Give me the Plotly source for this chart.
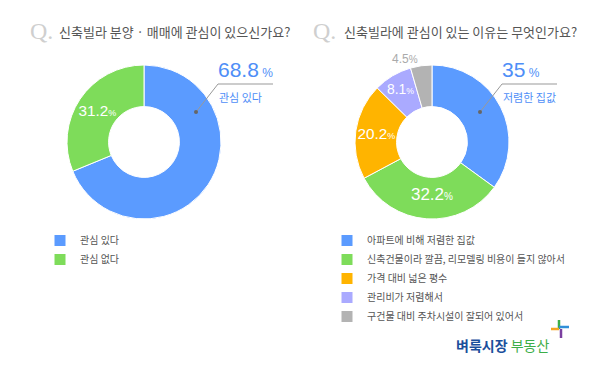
import plotly.graph_objects as go

# ---- data ----
q1_title = "신축빌라 분양 · 매매에 관심이 있으신가요?"
q1_labels = ["관심 있다", "관심 없다"]
q1_values = [68.8, 31.2]

q2_title = "신축빌라에 관심이 있는 이유는 무엇인가요?"
q2_labels = ["아파트에 비해 저렴한 집값",
             "신축건물이라 깔끔, 리모델링 비용이 들지 않아서",
             "가격 대비 넓은 평수",
             "관리비가 저렴해서",
             "구건물 대비 주차시설이 잘되어 있어서"]
q2_values = [35, 32.2, 20.2, 8.1, 4.5]
q2_callout = "저렴한 집값"

q1_colors = ["#5B9BFF", "#7EDC5A"]
q2_colors = ["#5B9BFF", "#7EDC5A", "#FFB400", "#AAAAFF", "#B3B3B3"]

FONT = "Liberation Sans, Arial, Noto Sans CJK KR"
KFONT = "Noto Sans CJK KR"
W, H = 600, 370


def px(x):
    return x / W


def py(y):
    return 1 - y / H


def pct_text(v, size=10):
    return f"{v}<span style='font-size:{size}px'>%</span>"


fig = go.Figure()

# left donut
t1 = ["" if i == 0 else pct_text(v) for i, v in enumerate(q1_values)]
fig.add_trace(go.Pie(
    labels=q1_labels, values=q1_values, sort=False, direction="clockwise",
    rotation=0, hole=0.46,
    marker=dict(colors=q1_colors, line=dict(color="white", width=1)),
    text=t1, textinfo="text", textposition="inside",
    insidetextorientation="horizontal",
    textfont=dict(family=FONT, size=17, color="white"),
    domain=dict(x=[px(67), px(221)], y=[py(219), py(65)]),
    legend="legend", hoverinfo="label+value",
))

# right donut
t2 = ["" if i == 0 else pct_text(v) for i, v in enumerate(q2_values)]
pos2 = ["inside", "inside", "inside", "inside", "outside"]
fc2 = ["white", "white", "white", "white", "#AAAAAA"]
fs2 = [17, 17, 17, 16, 12]
fig.add_trace(go.Pie(
    labels=q2_labels, values=q2_values, sort=False, direction="clockwise",
    rotation=0, hole=0.46,
    marker=dict(colors=q2_colors, line=dict(color="white", width=1)),
    text=t2, textinfo="text", textposition=pos2,
    insidetextorientation="horizontal",
    textfont=dict(family=FONT, size=fs2, color=fc2),
    domain=dict(x=[px(355), px(509)], y=[py(219), py(65)]),
    legend="legend2", hoverinfo="label+value",
))

annotations = []
shapes = []

# titles
for qx, tx, title in [(28, 57, q1_title), (311, 342, q2_title)]:
    annotations.append(dict(x=px(qx), y=py(31), xref="paper", yref="paper",
                            text="Q.", showarrow=False, xanchor="left", yanchor="middle",
                            font=dict(family="Liberation Serif, Times New Roman", size=24, color="#CFCFCF")))
    annotations.append(dict(x=px(tx), y=py(31), xref="paper", yref="paper",
                            text=title, showarrow=False, xanchor="left", yanchor="middle",
                            font=dict(family=KFONT, size=13, color="#555555")))

# callouts for the largest slice of each chart
for (dotx, doty, elbx, elby, endx, val, lab) in [
        (196, 112, 218, 84, 273, q1_values[0], q1_labels[0]),
        (480, 112, 502, 84, 557, q2_values[0], q2_callout)]:
    shapes.append(dict(type="path", xref="paper", yref="paper",
                       path=f"M {px(dotx)},{py(doty)} L {px(elbx)},{py(elby)} L {px(endx)},{py(elby)}",
                       line=dict(color="#999999", width=1)))
    shapes.append(dict(type="circle", xref="paper", yref="paper",
                       x0=px(dotx - 2), x1=px(dotx + 2), y0=py(doty + 2), y1=py(doty - 2),
                       fillcolor="#666666", line=dict(width=0)))
    annotations.append(dict(x=px(elbx - 2), y=py(83), xref="paper", yref="paper",
                            text=f"{val}<span style='font-size:12px'> %</span>",
                            showarrow=False, xanchor="left", yanchor="bottom",
                            font=dict(family=FONT, size=21, color="#4E8EF7")))
    annotations.append(dict(x=px(elbx - 1), y=py(87), xref="paper", yref="paper",
                            text=lab, showarrow=False, xanchor="left", yanchor="top",
                            font=dict(family=KFONT, size=11, color="#4E8EF7")))

# logo
annotations.append(dict(x=px(454), y=py(345), xref="paper", yref="paper",
                        text="<b><span style='color:#1B4F9C'>벼룩시장</span></b> "
                             "<span style='color:#3DAE49'>부동산</span>",
                        showarrow=False, xanchor="left", yanchor="middle",
                        font=dict(family=KFONT, size=14)))
# small pinwheel icon
shapes += [
    dict(type="line", xref="paper", yref="paper", x0=px(559), x1=px(559), y0=py(320), y1=py(329),
         line=dict(color="#3DAE49", width=2.5)),
    dict(type="line", xref="paper", yref="paper", x0=px(551), x1=px(559), y0=py(329), y1=py(329),
         line=dict(color="#F5A623", width=2.5)),
    dict(type="line", xref="paper", yref="paper", x0=px(559), x1=px(569), y0=py(327), y1=py(327),
         line=dict(color="#2F8FD8", width=2.5)),
    dict(type="line", xref="paper", yref="paper", x0=px(561), x1=px(561), y0=py(329), y1=py(338),
         line=dict(color="#7B3FA0", width=2.5)),
]

legend_common = dict(font=dict(family=KFONT, size=10, color="#555555"),
                     bgcolor="rgba(0,0,0,0)", itemclick=False, itemdoubleclick=False,
                     xanchor="left", yanchor="top", tracegroupgap=0)

fig.update_layout(
    width=W, height=H,
    margin=dict(l=0, r=0, t=0, b=0),
    paper_bgcolor="white", plot_bgcolor="white",
    showlegend=True,
    legend=dict(x=px(40), y=py(226), **legend_common),
    legend2=dict(x=px(327), y=py(226), **legend_common),
    annotations=annotations,
    shapes=shapes,
)

fig.write_html("out.html", config={"displayModeBar": False},
               post_script="document.body.style.margin='0px';")
